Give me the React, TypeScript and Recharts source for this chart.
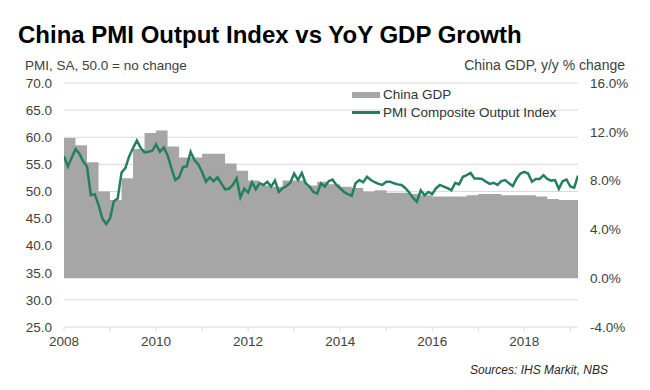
import { Area, CartesianGrid, ComposedChart, Line, XAxis, YAxis } from 'recharts';

// China Caixin/IHS composite output index, monthly, Jan 2008 - Mar 2019
const pmiComposite = [
  56.5, 54.6, 56.2, 57.8, 57.0, 55.5, 54.6, 49.3, 49.5, 47.5, 45.0, 44.0,
  45.0, 48.2, 48.7, 53.5, 54.3, 56.5, 58.0, 59.4, 58.0, 57.2, 57.3, 57.5,
  58.7, 57.3, 58.1, 56.7, 54.3, 52.1, 52.6, 54.5, 54.6, 57.3, 55.8, 55.0,
  53.6, 51.8, 52.6, 51.9, 52.6, 51.5, 50.4, 50.5, 51.2, 52.4, 48.9, 50.5,
  49.8, 51.7, 50.4, 51.5, 51.2, 51.8, 50.9, 52.0, 49.9, 50.6, 51.0, 51.6,
  53.3, 52.1, 53.4, 51.5, 50.9, 49.9, 49.6, 51.5, 50.9, 51.9, 52.2, 51.2,
  50.6, 49.9, 49.5, 49.2, 51.5, 52.1, 51.7, 52.7, 52.1, 51.7, 51.4, 51.2,
  51.8, 51.8, 51.5, 51.3, 51.2, 50.6, 49.8, 48.8, 48.1, 50.2, 49.3, 49.9,
  49.5, 50.6, 51.2, 50.9, 50.6, 50.2, 51.6, 51.3, 52.7, 53.0, 53.4, 52.4,
  52.4, 52.3, 51.8, 51.4, 51.6, 51.2, 51.9, 52.1, 51.5, 51.0, 52.4, 53.3,
  53.6, 53.3, 51.8, 52.3, 52.3, 53.0, 52.3, 52.0, 52.1, 50.5, 51.9, 52.2,
  50.9, 50.7, 52.9,
];

// China real GDP, y/y %, quarterly, 2008 Q1 - 2019 Q1
const gdpGrowth = [
  11.5, 10.9, 9.5, 7.1,
  6.4, 8.2, 10.6, 11.9,
  12.1, 10.8, 9.9, 9.9,
  10.2, 10.2, 9.4, 8.8,
  8.0, 7.6, 7.5, 8.0,
  8.0, 7.6, 7.9, 7.7,
  7.5, 7.4, 7.1, 7.2,
  7.0, 7.0, 6.9, 6.8,
  6.7, 6.7, 6.7, 6.8,
  6.9, 6.9, 6.8, 6.8,
  6.8, 6.7, 6.5, 6.4,
  6.4,
];

const startYear = 2008;
const yearTicks = [2008, 2009, 2010, 2011, 2012, 2013, 2014, 2015, 2016, 2017, 2018, 2019];
const pmiTicks = [25, 30, 35, 40, 45, 50, 55, 60, 65, 70];
const gdpTicks = [-4, 0, 4, 8, 12, 16];

const data = pmiComposite.map((pmi, i) => ({
  t: startYear + i / 12,
  pmi,
  gdp: gdpGrowth[Math.floor(i / 3)],
}));
const lastT = startYear + (pmiComposite.length - 1) / 12;

const font = 'Arial, "Liberation Sans", sans-serif';
const tickStyle = { fill: '#404040', fontSize: 13.5, fontFamily: font };

export default function App() {
  return (
    <div
      style={{
        position: 'absolute',
        left: 0,
        top: 0,
        width: 650,
        height: 390,
        background: '#fff',
        fontFamily: font,
      }}
    >
      <div
        style={{
          position: 'absolute',
          left: 18,
          top: 23,
          fontSize: 24,
          lineHeight: '24px',
          fontWeight: 700,
          color: '#000',
          whiteSpace: 'nowrap',
        }}
      >
        China PMI Output Index vs YoY GDP Growth
      </div>
      <div style={{ position: 'absolute', left: 25, top: 59, fontSize: 13.5, lineHeight: '14px', color: '#404040' }}>
        PMI, SA, 50.0 = no change
      </div>
      <div style={{ position: 'absolute', right: 25, top: 58, fontSize: 14, lineHeight: '14px', color: '#404040' }}>
        China GDP, y/y % change
      </div>

      <ComposedChart width={650} height={390} data={data} margin={{ top: 83, right: 0, bottom: 0, left: 0 }}>
        <CartesianGrid yAxisId="left" stroke="#d9d9d9" vertical={false} />
        <XAxis
          dataKey="t"
          type="number"
          domain={[startYear, lastT]}
          ticks={yearTicks}
          tickFormatter={(v: number) => (v % 2 === 0 ? String(v) : '')}
          tick={tickStyle}
          tickSize={4}
          tickMargin={5}
          tickLine={{ stroke: '#d9d9d9' }}
          axisLine={false}
          height={63}
          allowDataOverflow
        />
        <YAxis
          yAxisId="left"
          domain={[25, 70]}
          ticks={pmiTicks}
          tickFormatter={(v: number) => v.toFixed(1)}
          tick={tickStyle}
          tickSize={0}
          tickMargin={12}
          axisLine={false}
          tickLine={false}
          width={64}
          interval={0}
        />
        <YAxis
          yAxisId="right"
          orientation="right"
          domain={[-4, 16]}
          ticks={gdpTicks}
          tickFormatter={(v: number) => `${v.toFixed(1)}%`}
          tick={tickStyle}
          tickSize={0}
          tickMargin={12}
          axisLine={false}
          tickLine={false}
          width={72}
          interval={0}
        />
        <Area
          yAxisId="right"
          dataKey="gdp"
          type="stepAfter"
          baseValue={0}
          fill="#a6a6a6"
          fillOpacity={1}
          stroke="none"
          isAnimationActive={false}
        />
        <Line
          yAxisId="left"
          dataKey="pmi"
          type="linear"
          stroke="#23805f"
          strokeWidth={2.5}
          dot={false}
          isAnimationActive={false}
        />
      </ComposedChart>

      <div style={{ position: 'absolute', left: 352, top: 92, width: 28, height: 6, background: '#a6a6a6' }} />
      <div style={{ position: 'absolute', left: 383, top: 88, fontSize: 13.5, lineHeight: '14px', color: '#333' }}>
        China GDP
      </div>
      <div style={{ position: 'absolute', left: 352, top: 111, width: 28, height: 2.5, background: '#23805f' }} />
      <div style={{ position: 'absolute', left: 383, top: 106, fontSize: 13.5, lineHeight: '14px', color: '#333' }}>
        PMI Composite Output Index
      </div>

      <div
        style={{
          position: 'absolute',
          right: 42,
          top: 364,
          fontSize: 12,
          lineHeight: '13px',
          fontStyle: 'italic',
          color: '#262626',
        }}
      >
        Sources: IHS Markit, NBS
      </div>
    </div>
  );
}
